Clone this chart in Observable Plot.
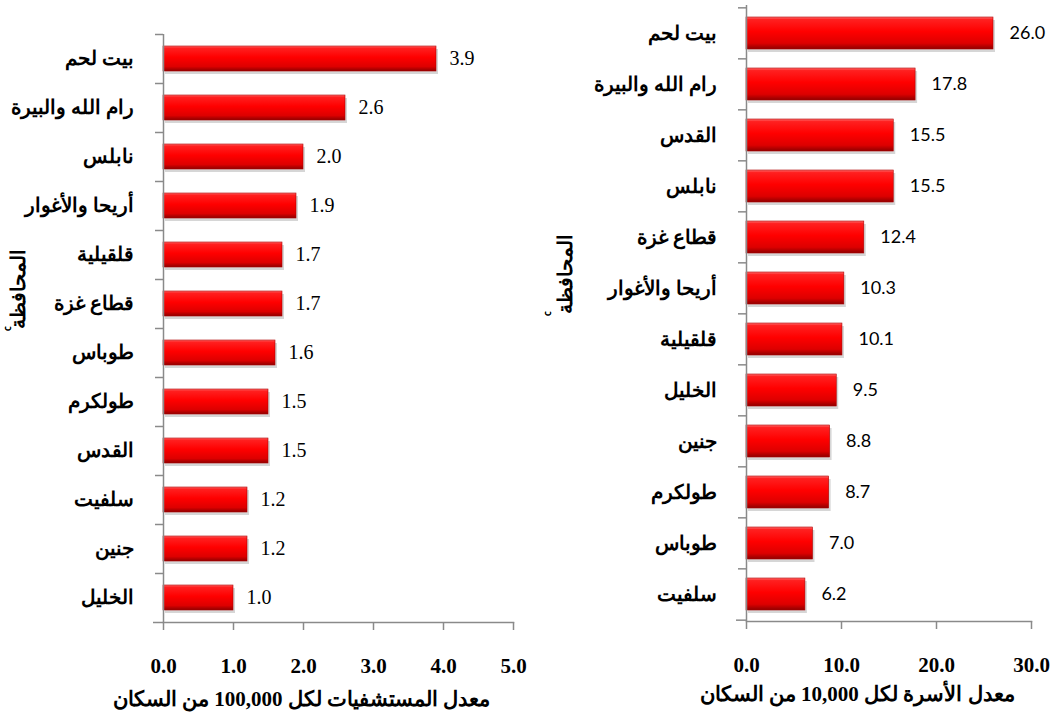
<!DOCTYPE html>
<html><head><meta charset="utf-8">
<script src="https://cdn.jsdelivr.net/npm/d3@7"></script>
<script src="https://cdn.jsdelivr.net/npm/@observablehq/plot@0.6"></script>
<style>
body{margin:0;background:#fff;}
#wrap{position:relative;width:1060px;height:726px;overflow:hidden;background:#fff;}
#left{position:absolute;left:0;top:0;}
#right{position:absolute;left:540px;top:0;}
</style></head><body><div id="wrap"><div id="left"></div><div id="right"></div></div>
<script>
// Left panel: hospitals per 100,000 population
const leftCategories = ["بيت لحم","رام الله والبيرة","نابلس","أريحا والأغوار","قلقيلية","قطاع غزة","طوباس","طولكرم","القدس","سلفيت","جنين","الخليل"];
const leftValues = [3.9, 2.6, 2.0, 1.9, 1.7, 1.7, 1.6, 1.5, 1.5, 1.2, 1.2, 1.0];
const leftTicks = [0, 1, 2, 3, 4, 5];
const leftXLabel = "معدل المستشفيات لكل 100,000 من السكان";

// Right panel: beds per 10,000 population
const rightCategories = ["بيت لحم","رام الله والبيرة","القدس","نابلس","قطاع غزة","أريحا والأغوار","قلقيلية","الخليل","جنين","طولكرم","طوباس","سلفيت"];
const rightValues = [26.0, 17.8, 15.5, 15.5, 12.4, 10.3, 10.1, 9.5, 8.8, 8.7, 7.0, 6.2];
const rightTicks = [0, 10, 20, 30];
const rightXLabel = "معدل الأسرة لكل 10,000 من السكان";

const yLabel = "المحافظة";

const gradStops = [[0, "#ff7070"], [0.08, "#ff2020"], [0.45, "#ff0000"], [0.82, "#dd0000"], [1, "#8f0000"]];

function gradientMark(id) {
  return () => {
    const ns = "http://www.w3.org/2000/svg";
    const defs = document.createElementNS(ns, "defs");
    const g = document.createElementNS(ns, "linearGradient");
    g.setAttribute("id", id);
    g.setAttribute("x1", "0"); g.setAttribute("y1", "0");
    g.setAttribute("x2", "0"); g.setAttribute("y2", "1");
    for (const [o, c] of gradStops) {
      const s = document.createElementNS(ns, "stop");
      s.setAttribute("offset", o);
      s.setAttribute("stop-color", c);
      g.appendChild(s);
    }
    defs.appendChild(g);
    return defs;
  };
}

const fmt = d3.format(".1f");
const serifFont = "'Liberation Serif', 'DejaVu Serif', serif";
const arabicFont = serifFont;

function panel(o) {
  const data = o.cats.map((c, i) => ({c, v: o.vals[i]}));
  const height = 726;
  const step = (height - o.marginTop - o.marginBottom) / o.cats.length;
  return Plot.plot({
    width: o.width, height,
    marginLeft: o.marginLeft, marginRight: o.marginRight,
    marginTop: o.marginTop, marginBottom: o.marginBottom,
    style: {background: "white", overflow: "visible"},
    x: {domain: [0, o.xMax]},
    y: {domain: o.cats, paddingInner: o.padInner, paddingOuter: o.padInner / 2},
    marks: [
      gradientMark(o.gradId),
      Plot.barX(data, {x: "v", y: "c", fill: "#000", fillOpacity: 0.16, dx: 2, dy: 3}),
      Plot.barX(data, {x: "v", y: "c", fill: `url(#${o.gradId})`, stroke: "#b00000", strokeWidth: 0.6}),
      Plot.ruleX([0], {stroke: "#8a8a8a", strokeWidth: 1.5}),
      Plot.axisY({tickSize: 8, tickFormat: () => "", dy: -step / 2, stroke: "#8a8a8a", strokeWidth: 1.5}),
      Plot.axisY({ticks: [o.cats[o.cats.length - 1]], tickSize: 10, tickFormat: () => "", dy: step / 2, stroke: "#8a8a8a", strokeWidth: 1.5}),
      Plot.frame({anchor: "bottom", stroke: "#8a8a8a", strokeWidth: 1.5}),
      Plot.axisX({ticks: o.ticks, tickSize: 8, tickPadding: 28, tickFormat: fmt, label: null,
        stroke: "#8a8a8a", strokeWidth: 1.5, fill: "#000",
        fontSize: 21, fontWeight: "bold", fontFamily: serifFont}),
      Plot.text(data, {y: "c", text: "c", frameAnchor: "left", dx: -30, textAnchor: "end",
        fontSize: 20, fontWeight: "bold", fontFamily: arabicFont, fill: "#000"}),
      Plot.text(data, {x: "v", y: "c", text: d => fmt(d.v), textAnchor: "start", dx: o.valueDx,
        fontSize: o.valueSize, fontFamily: o.valueFont, fill: "#000"}),
      Plot.text([o.xLabel], {text: d => d, frameAnchor: "bottom", dx: o.titleDx, dy: o.titleDy,
        fontSize: 21, fontWeight: "bold", fontFamily: serifFont, fill: "#000"}),
      Plot.text([yLabel], {text: d => d, frameAnchor: "left", dx: o.yTitleDx, rotate: -90,
        fontSize: 20, fontWeight: "bold", fontFamily: arabicFont, fill: "#000"})
    ]
  });
}

document.getElementById("left").appendChild(panel({
  cats: leftCategories, vals: leftValues, ticks: leftTicks, xLabel: leftXLabel,
  width: 540, marginLeft: 163, marginRight: 27, marginTop: 34, marginBottom: 104,
  xMax: 5, padInner: 0.49, gradId: "gradL",
  valueFont: serifFont, valueSize: 20, valueDx: 13,
  titleDx: -37, titleDy: 83, yTitleDx: -145
}));

document.getElementById("right").appendChild(panel({
  cats: rightCategories, vals: rightValues, ticks: rightTicks, xLabel: rightXLabel,
  width: 520, marginLeft: 206, marginRight: 29, marginTop: 5, marginBottom: 105,
  xMax: 30, padInner: 0.377, gradId: "gradR",
  valueFont: "Lato, 'Open Sans', sans-serif", valueSize: 18, valueDx: 16,
  titleDx: -32, titleDy: 79, yTitleDx: -181
}));
</script>
</body></html>
